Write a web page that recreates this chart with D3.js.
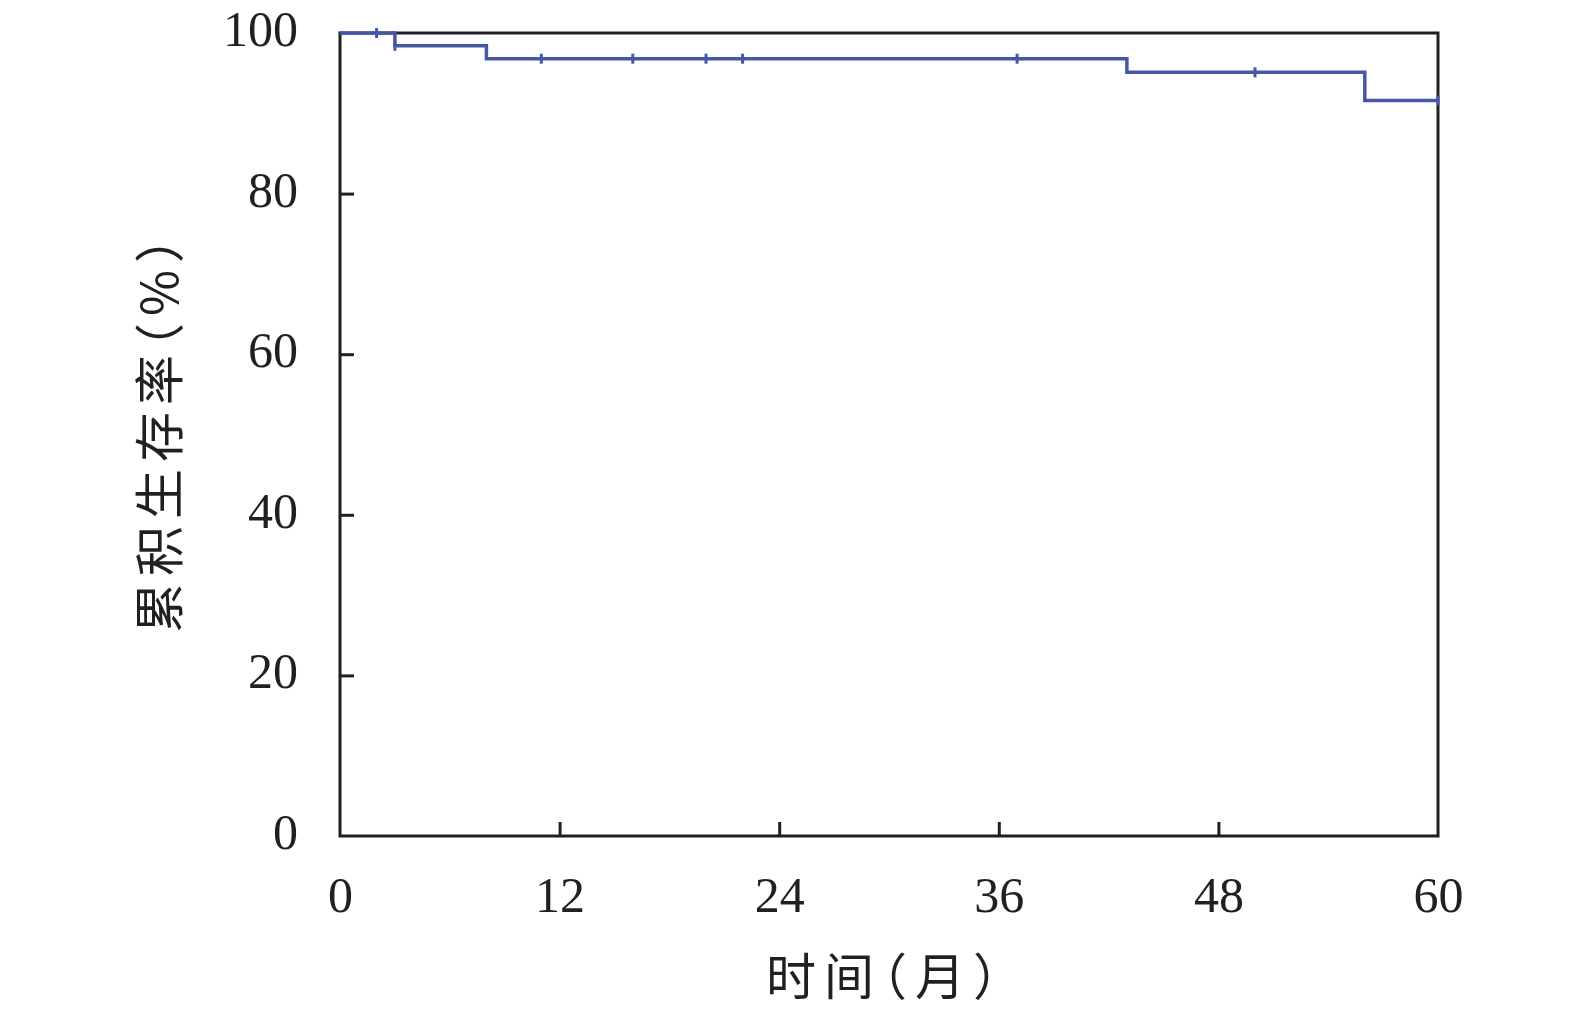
<!DOCTYPE html>
<html><head><meta charset="utf-8">
<script src="https://cdn.jsdelivr.net/npm/d3@7"></script>
<style>body{margin:0;background:#fff}svg{display:block}.cjk{font-feature-settings:"halt" 1}</style>
</head><body>
<script>
// Survival steps: time (months) and cumulative survival (%)
const stepTimes = [0, 3, 8, 43, 56, 60];
const stepValues = [100, 98.4, 96.8, 95.1, 91.6, 91.6];
// Censored observations
const censorTimes = [2, 3, 11, 16, 20, 22, 37, 50, 60];
const xTicks = [0, 12, 24, 36, 48, 60];
const yTicks = [0, 20, 40, 60, 80, 100];
const xTitle = "时间（月）";
const yTitle = "累积生存率（%）";

const W = 1575, H = 1016;
const m = {left: 340, right: 1438, top: 33, bottom: 836};
const svg = d3.select("body").append("svg").attr("width", W).attr("height", H);
const x = d3.scaleLinear().domain([0, 60]).range([m.left, m.right]);
const y = d3.scaleLinear().domain([0, 100]).range([m.bottom, m.top]);

const axisColor = "#231f20";
const serif = "'Liberation Serif','DejaVu Serif',serif";
const cjk = "'Noto Sans CJK SC',sans-serif";

// Axes (inward ticks)
const xAxis = svg.append("g").attr("transform", `translate(0,${m.bottom})`)
  .call(d3.axisBottom(x).tickValues(xTicks).tickSize(-14).tickPadding(26).tickFormat(d3.format("d")));
const yAxis = svg.append("g").attr("transform", `translate(${m.left},0)`)
  .call(d3.axisLeft(y).tickValues(yTicks).tickSize(-14).tickPadding(42).tickFormat(d3.format("d")));
[xAxis, yAxis].forEach(g => {
  g.select(".domain").remove();
  g.selectAll(".tick line").attr("stroke", axisColor).attr("stroke-width", 3);
  g.selectAll(".tick text").attr("fill", axisColor).attr("font-family", serif).attr("font-size", 50);
});
xAxis.selectAll(".tick text").attr("dy", "1.0em");
yAxis.selectAll(".tick text").attr("x", -42).attr("dy", "0.25em");
// hide tick lines at the box edges
xAxis.selectAll(".tick line").filter(d => d === 0 || d === 60).remove();
yAxis.selectAll(".tick line").filter(d => d === 0 || d === 100).remove();

// Frame box
svg.append("rect").attr("x", x(0)).attr("y", y(100))
  .attr("width", x(60) - x(0)).attr("height", y(0) - y(100))
  .attr("fill", "none").attr("stroke", axisColor).attr("stroke-width", 3);

// KM step curve
const stepData = stepTimes.map((t, i) => [t, stepValues[i]]);
const line = d3.line().x(d => x(d[0])).y(d => y(d[1])).curve(d3.curveStepAfter);
const lineColor = "#4657a6";
svg.append("path").datum(stepData).attr("d", line)
  .attr("fill", "none").attr("stroke", lineColor).attr("stroke-width", 3.5);

// Survival at a time
function surv(t) {
  let v = stepValues[0];
  for (let i = 0; i < stepTimes.length; i++) if (stepTimes[i] <= t) v = stepValues[i];
  return v;
}
svg.append("g").selectAll("line").data(censorTimes).join("line")
  .attr("x1", d => x(d)).attr("x2", d => x(d))
  .attr("y1", d => y(surv(d)) - 5).attr("y2", d => y(surv(d)) + 5)
  .attr("stroke", lineColor).attr("stroke-width", 3);

// Titles
svg.append("text").attr("class", "cjk").attr("x", 886).attr("y", 995)
  .attr("text-anchor", "middle").attr("font-family", cjk).attr("font-size", 50)
  .attr("letter-spacing", 8)
  .attr("fill", axisColor).text(xTitle);
svg.append("text").attr("class", "cjk").attr("transform", `translate(178,432) rotate(-90)`)
  .attr("text-anchor", "middle").attr("font-family", cjk).attr("font-size", 50)
  .attr("letter-spacing", 7)
  .attr("fill", axisColor).text(yTitle);
</script>
</body></html>
